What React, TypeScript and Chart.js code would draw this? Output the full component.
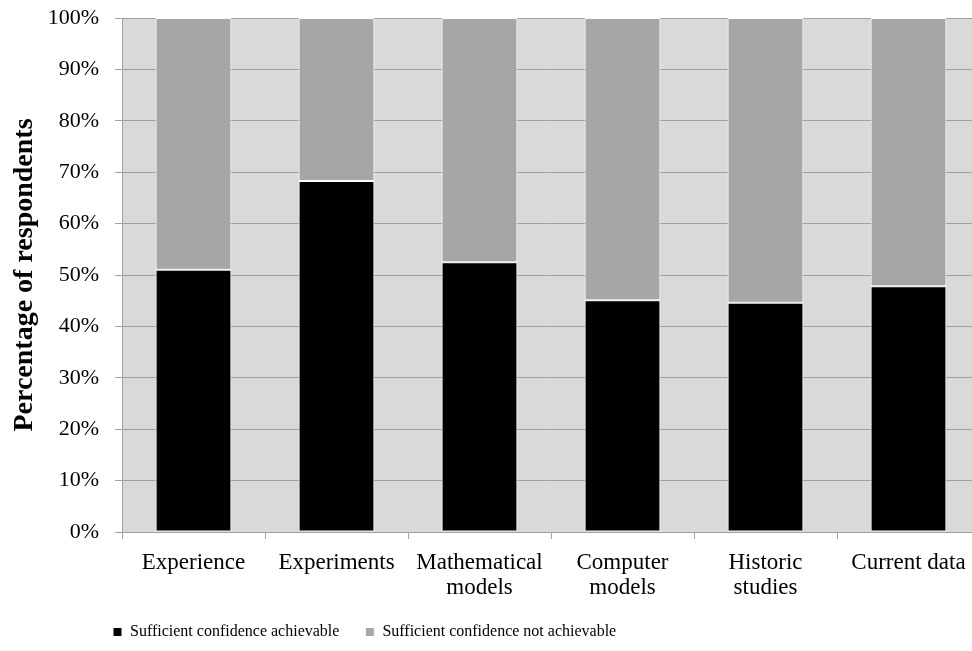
import { useEffect, useRef } from 'react';
import { Chart, registerables } from 'chart.js';

Chart.register(...registerables);

const categories: (string | string[])[] = [
  'Experience',
  'Experiments',
  ['Mathematical', 'models'],
  ['Computer', 'models'],
  ['Historic', 'studies'],
  'Current data',
];
const achievable = [51.0, 68.3, 52.5, 45.1, 44.6, 47.8];
const notAchievable = [49.0, 31.7, 47.5, 54.9, 55.4, 52.2];
const seriesNames = ['Sufficient confidence achievable', 'Sufficient confidence not achievable'];
const yTitle = 'Percentage of respondents';

const FONT = "'Liberation Serif', 'Times New Roman', serif";

const plotBg = {
  id: 'plotBg',
  beforeLayout(chart: any) {
    const lg = chart.legend;
    if (lg && !lg._fixedFit) {
      const f = lg.fit.bind(lg);
      lg.fit = function () {
        f();
        this.height = 30;
      };
      lg._fixedFit = true;
    }
  },
  beforeDraw(chart: any) {
    const { ctx, chartArea } = chart;
    const { left, top, right, bottom } = chartArea;
    ctx.save();
    ctx.fillStyle = '#d9d9d9';
    ctx.fillRect(left, top, right - left, bottom - top);
    ctx.restore();
    const lg = chart.legend;
    if (lg) {
      lg.left = 87;
      lg.top = 598;
    }
  },
};

export default function App() {
  const ref = useRef<HTMLCanvasElement>(null);
  useEffect(() => {
    if (!ref.current) return;
    const chart = new Chart(ref.current, {
      type: 'bar',
      data: {
        labels: categories as any,
        datasets: [
          {
            label: seriesNames[0],
            data: achievable,
            backgroundColor: '#000000',
            borderColor: '#ffffff',
            borderWidth: 1,
            borderSkipped: false,
            barPercentage: 0.53,
            categoryPercentage: 1,
          },
          {
            label: seriesNames[1],
            data: notAchievable,
            backgroundColor: '#a6a6a6',
            borderColor: '#ffffff',
            borderWidth: 1,
            borderSkipped: false,
            barPercentage: 0.53,
            categoryPercentage: 1,
          },
        ],
      },
      options: {
        animation: false,
        responsive: true,
        maintainAspectRatio: false,
        layout: { padding: { top: 18, right: 10, left: 0, bottom: 0 } },
        plugins: {
          legend: {
            position: 'bottom',
            align: 'start',
            labels: {
              color: '#000',
              font: { family: FONT, size: 16 },
              boxWidth: 9,
              boxHeight: 9,
              padding: 26,
            },
          },
          tooltip: { enabled: false },
        },
        scales: {
          x: {
            stacked: true,
            grid: {
              offset: true,
              drawOnChartArea: false,
              drawTicks: true,
              tickLength: 7,
              color: '#a0a0a0',
            },
            border: { color: '#a0a0a0' },
            ticks: {
              color: '#000',
              font: { family: FONT, size: 23, lineHeight: 1.1 },
              padding: 11,
              maxRotation: 0,
              autoSkip: false,
            },
            afterFit: (s: any) => {
              s.height = 89;
              s.paddingLeft = 0;
              s.paddingRight = 0;
            },
          },
          y: {
            stacked: true,
            min: 0,
            max: 100,
            grid: { color: '#a0a0a0', tickLength: 7 },
            border: { color: '#a0a0a0' },
            ticks: {
              stepSize: 10,
              color: '#000',
              font: { family: FONT, size: 22 },
              padding: 16,
              callback: (v: any) => v + '%',
            },
            title: {
              display: true,
              text: yTitle,
              color: '#000',
              font: { family: FONT, size: 28, weight: 'bold' },
              padding: { top: 8, bottom: 0 },
            },
            afterFit: (s: any) => {
              s.width = 122;
              s.paddingTop = 0;
              s.paddingBottom = 0;
            },
          },
        },
      },
      plugins: [plotBg],
    });
    return () => chart.destroy();
  }, []);
  return (
    <div style={{ position: 'absolute', left: 0, top: 0, width: 972, height: 651, overflow: 'hidden', background: '#fff' }}>
      <div style={{ position: 'relative', width: 990, height: 651 }}>
        <canvas ref={ref} />
      </div>
    </div>
  );
}
